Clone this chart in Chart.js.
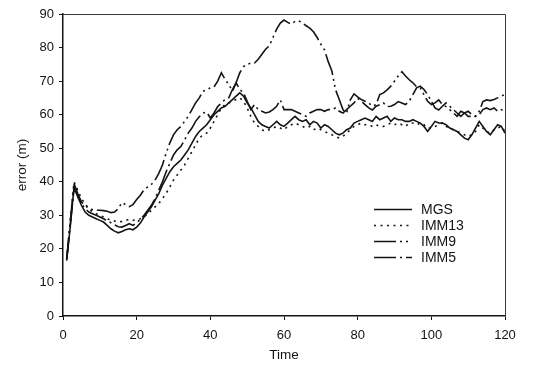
<!DOCTYPE html>
<html>
<head>
<meta charset="utf-8">
<script src="https://cdn.jsdelivr.net/npm/chart.js@4/dist/chart.umd.min.js"></script>
<style>
  html, body { margin: 0; padding: 0; background: #fff; }
  #wrap { width: 537px; height: 369px; position: relative; }
</style>
</head>
<body>
<div id="wrap"><canvas id="c" width="537" height="369"></canvas></div>
<script>
// Time steps
const time = [1,2,3,4,5,6,7,8,9,10,11,12,13,14,15,16,17,18,19,20,
  21,22,23,24,25,26,27,28,29,30,31,32,33,34,35,36,37,38,39,40,
  41,42,43,44,45,46,47,48,49,50,51,52,53,54,55,56,57,58,59,60,
  61,62,63,64,65,66,67,68,69,70,71,72,73,74,75,76,77,78,79,80,
  81,82,83,84,85,86,87,88,89,90,91,92,93,94,95,96,97,98,99,100,
  101,102,103,104,105,106,107,108,109,110,111,112,113,114,115,116,117,118,119,120];

// Position error (m) per filter
const mgs = [16.5,27,38.5,35.5,33,31,30,29.5,29,28.5,28,27,26,25.3,24.8,25.2,25.7,26,25.7,26.5,
  27.7,29.5,31,32.5,34.5,36.5,39,41,43,44.5,45.5,46.5,48,49.5,51.5,53.5,55,56,57,58.5,
  60,61,62,62.5,63.5,64.5,65.5,66.5,65.5,63.5,62,60,58,57,56.5,56,57,58,57,56.5,
  57.5,58.5,59.5,58.5,58,58.5,57,58,57.5,56,57,56.5,55.5,54.5,54,54.5,55.5,56,57.5,58,
  58.5,59,58.5,58,59.5,58.5,59,59.5,58,59,58.5,58.5,58,58,58.5,58,57.5,56.5,55,56.5,
  58,57.5,57.5,57,56,55.5,55,54,53,52.5,54,56,58,56.5,55,54,55.5,57,56.5,54.5];

const imm13 = [17,28.5,40,37.5,35,33.5,32,31,30.5,30,29.5,29,28.5,28.3,28,28.2,28.5,28.8,28.5,28.7,
  29,29.5,30.5,31.5,32.5,33.5,35,36.5,38.5,40.5,42,43.5,45,47,49,51,53,54,54.5,56,
  58,60,62,63,63.5,64,64.5,65,64,62,59.5,57.5,56.5,55.5,55,55.5,56,56.5,56,55.5,
  56.5,57,57.5,57,56.5,56,56.5,55.5,56,55.5,55,54.5,54,53.5,53,53.5,54.5,55.5,56.5,57,
  57.5,57,57,56.5,57,56.5,56.5,57,57.5,57,57.5,57,56.5,57.5,57.5,57,57.5,57,56,56,
  56.5,57,57.5,56.5,56,55.5,55,54.5,54,53.5,54,55,57,56,55,54.5,55.5,56,56.5,55];

const imm9 = [17,28.5,39.5,36.5,34,33,32,31.7,31.5,31.5,31.4,31.2,30.8,31,32,33.8,33.2,32.6,33.2,34.7,
  36,37.6,38.5,39.2,40.5,42.5,45,48.5,51.6,54,55.5,56.5,58,59.5,61.5,63.5,65,67,67.4,68,
  68.3,70,72.5,70.5,69,67,69.5,72.5,74.3,75,75.4,75.4,76.5,78,79.5,80.5,83,85.5,87.3,88.2,
  87.5,87,87.8,88,87.3,86.5,85.8,84.7,83,81,79.3,75.8,73,67.4,64.5,61.5,60.5,64.4,66.2,65.3,
  64.5,64,63.5,62.5,63,66,66.5,67.4,68.5,70,71.5,72.8,71.5,70.4,69.5,68.3,68,66,64,63,
  63.5,64.4,63,62.4,61.5,60.5,59.5,61,60.5,59.5,59.5,59.5,61,63.9,64.4,64.2,64.5,65,65.5,66];

const imm5 = [17,27.5,38,36,33.5,32,31,30.5,30,29.5,29,28.3,27.8,27.2,26.6,26.5,27,27.5,27,27.8,
  28.8,30,31.5,33,35,37.5,40,43,45.5,48,49.5,50.5,52.5,54.5,56,58,59.4,60.5,60.8,59,
  60.5,62.4,63.5,64.5,65,67.5,69.5,67.5,66.5,64,61.5,63,61.5,61,60.5,60.8,61.5,62.5,64.4,61.5,
  61.5,61.5,61,60.5,60,59.5,60.5,61,61.5,61.5,61,61.5,61.5,62,61,60.5,61.5,62.5,63.5,64.9,
  64,63,62,61.4,62.5,63,63.5,62.4,62.5,63,63.9,63.5,63,64,66,68,68.5,67.5,66,64,
  62,61.4,62.5,63.5,62.5,61.5,60.5,59.5,60.5,61,60,59.5,60,61.5,62,61.5,62,61,61.5,61];

const seriesNames = ['MGS', 'IMM13', 'IMM9', 'IMM5'];
const xTicks = [0, 20, 40, 60, 80, 100, 120];
const yTicks = [0, 10, 20, 30, 40, 50, 60, 70, 80, 90];

const INK = '#141414';
const FONT = "'Liberation Sans', Arial, sans-serif";

const dashes = [[], [2, 4.5], [22, 4, 2, 4, 2, 4], [22, 4, 2, 4]];
const values = [mgs, imm13, imm9, imm5];

const datasets = seriesNames.map((name, i) => ({
  label: name,
  data: time.map((t, k) => ({ x: t, y: values[i][k] })),
  borderColor: INK,
  borderWidth: 1.6,
  borderDash: dashes[i],
  borderCapStyle: 'butt',
  pointRadius: 0,
  tension: 0,
  fill: false
}));

// Frame around the plotting area
const frame = {
  id: 'frame',
  afterDraw(chart) {
    const { ctx, chartArea: a } = chart;
    ctx.save();
    ctx.strokeStyle = '#3a3a3a';
    ctx.lineWidth = 1;
    ctx.beginPath();
    ctx.moveTo(a.left, a.top + 0.5);
    ctx.lineTo(a.right + 0.5, a.top + 0.5);
    ctx.lineTo(a.right + 0.5, a.bottom);
    ctx.stroke();
    ctx.restore();
  }
};

// Key drawn inside the plotting area
const insideKey = {
  id: 'insideKey',
  afterDraw(chart) {
    const { ctx } = chart;
    const x0 = 374, x1 = 412, tx = 421;
    const rows = [209, 225, 241, 257];
    ctx.save();
    ctx.font = '14px ' + FONT;
    ctx.textBaseline = 'middle';
    ctx.fillStyle = INK;
    chart.data.datasets.forEach((ds, i) => {
      const y = rows[i] + 0.5;
      ctx.strokeStyle = ds.borderColor;
      ctx.lineWidth = ds.borderWidth;
      ctx.lineCap = 'butt';
      ctx.setLineDash(ds.borderDash || []);
      ctx.beginPath();
      ctx.moveTo(x0, y);
      ctx.lineTo(x1, y);
      ctx.stroke();
      ctx.setLineDash([]);
      ctx.fillText(ds.label, tx, rows[i] + 1);
    });
    ctx.restore();
  }
};

new Chart(document.getElementById('c'), {
  type: 'line',
  data: { datasets },
  options: {
    responsive: false,
    animation: false,
    devicePixelRatio: 1,
    layout: { padding: { left: 0, right: 32, top: 14, bottom: 0 } },
    plugins: {
      legend: { display: false },
      tooltip: { enabled: false }
    },
    scales: {
      x: {
        type: 'linear',
        min: 0, max: 120,
        afterBuildTicks: s => { s.ticks = xTicks.map(v => ({ value: v })); },
        afterFit: s => { s.height = 53; },
        ticks: { color: INK, font: { family: FONT, size: 13, lineHeight: 1.7 }, padding: 4, maxRotation: 0 },
        grid: { display: true, drawOnChartArea: false, drawTicks: true, tickLength: 4, tickColor: INK, tickWidth: 1 },
        border: { display: true, color: INK, width: 1.5 },
        title: { display: true, text: 'Time', color: INK, font: { family: FONT, size: 13.5 }, padding: { top: 4, bottom: 6 } }
      },
      y: {
        type: 'linear',
        min: 0, max: 90,
        afterBuildTicks: s => { s.ticks = yTicks.map(v => ({ value: v })); },
        afterFit: s => { s.width = 63; },
        ticks: { color: INK, font: { family: FONT, size: 13 }, padding: 5 },
        grid: { display: true, drawOnChartArea: false, drawTicks: true, tickLength: 4, tickColor: INK, tickWidth: 1 },
        border: { display: true, color: INK, width: 1.5 },
        title: { display: true, text: 'error (m)', color: INK, font: { family: FONT, size: 13.5 }, padding: { top: 14, bottom: 0 } }
      }
    }
  },
  plugins: [frame, insideKey]
});
</script>
</body>
</html>
